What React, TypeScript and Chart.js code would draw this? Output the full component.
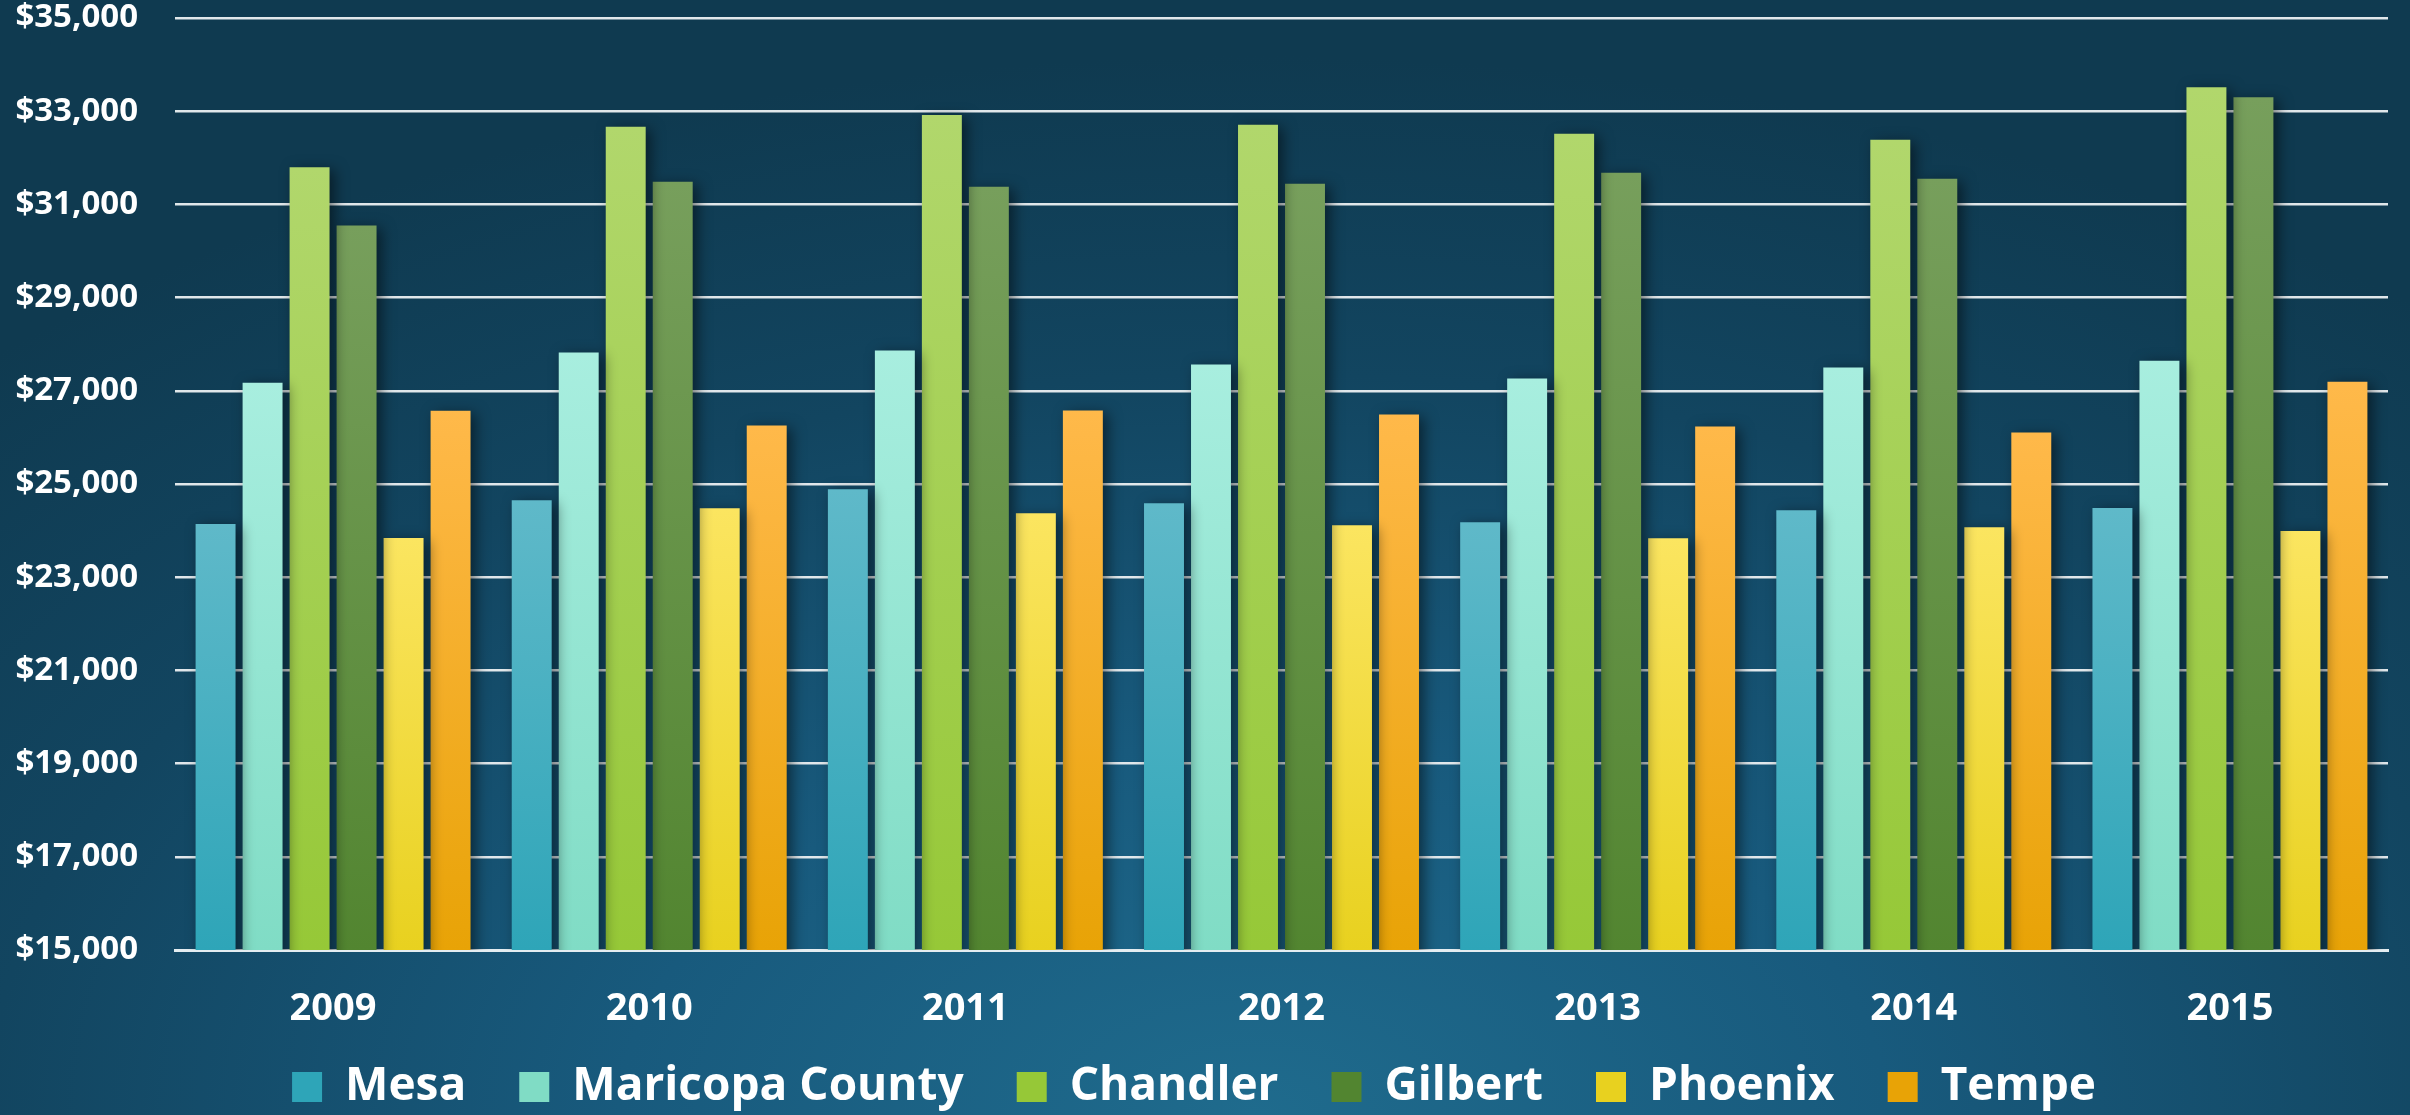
import React, { useEffect, useRef } from "react";
import { Chart, registerables } from "chart.js";

Chart.register(...registerables);

const years = ["2009", "2010", "2011", "2012", "2013", "2014", "2015"];
const mesa = [24143, 24650, 24886, 24586, 24179, 24436, 24486];
const maricopa = [27172, 27821, 27864, 27564, 27264, 27500, 27645];
const chandler = [31796, 32664, 32921, 32707, 32514, 32386, 33516];
const gilbert = [30548, 31486, 31379, 31443, 31679, 31550, 33300];
const phoenix = [23843, 24479, 24371, 24114, 23836, 24071, 23993];
const tempe = [26570, 26257, 26579, 26493, 26236, 26107, 27194];

const seriesNames = ["Mesa", "Maricopa County", "Chandler", "Gilbert", "Phoenix", "Tempe"];
const seriesData = [mesa, maricopa, chandler, gilbert, phoenix, tempe];
const topColors = ["#5fb9c9", "#a8eedf", "#b1d76c", "#779f5c", "#fbe560", "#ffb94a"];
const bottomColors = ["#2ea5b8", "#80dcc5", "#96c837", "#528530", "#e8d11f", "#e8a306"];

const yMin = 15000;
const yMax = 35000;
const yStep = 2000;

const FONT = '"Open Sans", "DejaVu Sans", sans-serif';
const W = 2410;
const H = 1120;

export default function App() {
  const ref = useRef<HTMLCanvasElement | null>(null);

  useEffect(() => {
    const canvas = ref.current;
    if (!canvas) return;

    const shadowPlugin = {
      id: "barShadow",
      beforeDatasetsDraw(chart: any) {
        const c = chart.ctx;
        c.save();
        c.shadowColor = "rgba(0,0,0,0.5)";
        c.shadowBlur = 14;
        c.shadowOffsetX = 5;
        c.shadowOffsetY = 3;
      },
      afterDatasetsDraw(chart: any) {
        chart.ctx.restore();
      },
    };

    const datasets = seriesNames.map((name, i) => ({
      label: name,
      data: seriesData[i],
      borderWidth: 0,
      categoryPercentage: 0.892,
      barPercentage: 0.85,
      backgroundColor: (ctx: any) => {
        const chart = ctx.chart;
        const area = chart.chartArea;
        if (!area || ctx.type !== "data" || !ctx.parsed) return topColors[i];
        const y = chart.scales.y.getPixelForValue(ctx.parsed.y);
        const g = chart.ctx.createLinearGradient(0, y, 0, area.bottom);
        g.addColorStop(0, topColors[i]);
        g.addColorStop(1, bottomColors[i]);
        return g;
      },
    }));

    const chart = new Chart(canvas, {
      type: "bar",
      data: { labels: years, datasets },
      plugins: [shadowPlugin],
      options: {
        animation: false,
        responsive: false,
        devicePixelRatio: 1,
        layout: { padding: { top: 18, right: 22, left: 0, bottom: 0 } },
        plugins: {
          tooltip: { enabled: false },
          legend: {
            position: "bottom",
            labels: {
              color: "#ffffff",
              font: { family: FONT, size: 46, weight: "bold" },
              boxWidth: 30,
              boxHeight: 30,
              padding: 53,
            },
          },
        },
        scales: {
          x: {
            grid: { display: false, drawTicks: false },
            border: { display: true, color: "#e4edf1", width: 3 },
            ticks: {
              color: "#ffffff",
              font: { family: FONT, size: 38, weight: "bold" },
              padding: 36,
            },
            afterFit: (scale: any) => {
              scale.height = 61;
              scale._computeLabelArea = () => undefined;
            },
          },
          y: {
            min: yMin,
            max: yMax,
            grid: { color: "rgba(236,240,242,0.95)", lineWidth: 2.5, drawTicks: false },
            border: { display: false },
            ticks: {
              stepSize: yStep,
              color: "#ffffff",
              font: { family: FONT, size: 33, weight: "bold" },
              padding: 37,
              callback: (v: any) => "$" + Number(v).toLocaleString("en-US"),
            },
            afterFit: (scale: any) => {
              scale.width = 175;
              scale.paddingTop = 18;
              scale.paddingBottom = 0;
            },
          },
        },
      },
    });

    return () => chart.destroy();
  }, []);

  return (
    <div
      style={{
        position: "fixed",
        left: 0,
        top: 0,
        width: W,
        height: 1115,
        overflow: "hidden",
        background:
          "radial-gradient(ellipse 75% 95% at 52% 100%, #1f6b8d 0%, #185a7d 35%, #124560 70%, #0f3a50 100%)",
      }}
    >
      <canvas ref={ref} width={W} height={H} style={{ width: W, height: H, display: "block" }} />
    </div>
  );
}
